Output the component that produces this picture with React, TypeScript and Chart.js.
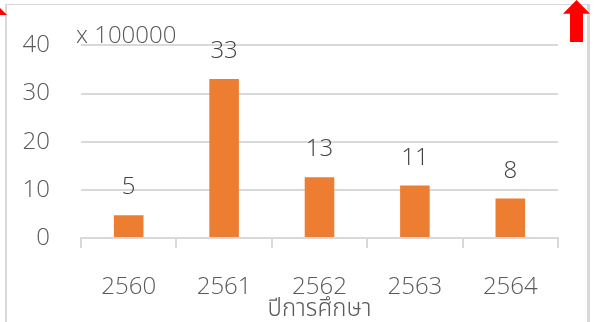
import React, { useEffect, useRef } from "react";
import { Chart, registerables } from "chart.js";

Chart.register(...registerables);

const categories = ["2560", "2561", "2562", "2563", "2564"];
const values = [4.7, 33.0, 12.6, 10.9, 8.2];
const yTicks = [0, 10, 20, 30, 40];
const unitLabel = "x 100000";
const xTitle = "ปีการศึกษา";

const FONT = "'Open Sans', 'Noto Sans Thai', 'Noto Sans', 'DejaVu Sans', sans-serif";
const WEIGHT = "300";
const GRID = "#d9d9d9";
const TEXT = "#595959";
const BAR = "#ed7d31";

const labelPlugin = {
  id: "valueLabels",
  afterDatasetsDraw(chart: any) {
    const ctx = chart.ctx;
    const meta = chart.getDatasetMeta(0);
    ctx.save();
    ctx.font = `${WEIGHT} 24px ${FONT}`;
    ctx.fillStyle = "#404040";
    ctx.textAlign = "center";
    ctx.textBaseline = "alphabetic";
    meta.data.forEach((bar: any, i: number) => {
      ctx.fillText(String(Math.round(values[i])), bar.x, bar.y - 21);
    });
    ctx.restore();
  },
  afterDraw(chart: any) {
    const ctx = chart.ctx;
    const area = chart.chartArea;
    ctx.save();
    ctx.font = `${WEIGHT} 24px ${FONT}`;
    ctx.fillStyle = TEXT;
    ctx.textAlign = "left";
    ctx.textBaseline = "middle";
    ctx.fillText(unitLabel, area.left - 5, area.top - 9);
    ctx.restore();
  },
};

export default function App() {
  const ref = useRef<HTMLCanvasElement>(null);
  useEffect(() => {
    if (!ref.current) return;
    const font = { family: FONT, size: 24, weight: WEIGHT as any };
    const chart = new Chart(ref.current, {
      type: "bar",
      data: {
        labels: categories,
        datasets: [
          {
            data: values,
            backgroundColor: BAR,
            barPercentage: 0.62,
            categoryPercentage: 0.5,
          },
        ],
      },
      options: {
        responsive: false,
        animation: false,
        layout: { padding: { left: 0, top: 43, right: 44, bottom: 0 } },
        plugins: { legend: { display: false }, tooltip: { enabled: false } },
        scales: {
          x: {
            afterFit: (s: any) => {
              s.height = 84;
            },
            grid: {
              drawOnChartArea: false,
              drawTicks: true,
              tickLength: 10,
              color: GRID,
              lineWidth: 2,
            },
            border: { display: true, color: GRID, width: 2 },
            ticks: { color: TEXT, font, padding: 25 },
            title: {
              display: true,
              text: xTitle,
              color: TEXT,
              font: { ...font, lineHeight: 1.0 },
              padding: { top: 0, bottom: 1 },
            },
          },
          y: {
            min: 0,
            max: 40,
            afterFit: (s: any) => {
              s.width = 81;
            },
            afterBuildTicks: (s: any) => {
              s.ticks = yTicks.map((v) => ({ value: v }));
            },
            grid: { color: GRID, lineWidth: 2, drawTicks: false },
            border: { display: false },
            ticks: { color: TEXT, font, padding: 31 },
          },
        },
      },
      plugins: [labelPlugin],
    });
    return () => chart.destroy();
  }, []);
  return (
    <div style={{ position: "absolute", left: 0, top: 0, width: 602, height: 322, overflow: "hidden", background: "#fff" }}>
      <div
        style={{
          position: "absolute",
          left: 5,
          top: 4,
          width: 580,
          height: 340,
          borderTop: `1px solid ${GRID}`,
          borderLeft: `2px solid ${GRID}`,
          borderRight: `3px solid ${GRID}`,
        }}
      />
      <canvas ref={ref} width={602} height={322} style={{ position: "absolute", left: 0, top: 0 }} />
      <div
        style={{
          position: "absolute",
          left: 0,
          top: 8,
          width: 7,
          height: 7,
          background: "#ff0000",
          clipPath: "polygon(0 0, 100% 100%, 0 100%)",
        }}
      />
      <div
        style={{
          position: "absolute",
          left: 563,
          top: 0,
          width: 27,
          height: 42,
          background: "#ff0000",
          clipPath: "polygon(50% 0, 100% 33%, 74% 33%, 74% 100%, 26% 100%, 26% 33%, 0 33%)",
        }}
      />
    </div>
  );
}
